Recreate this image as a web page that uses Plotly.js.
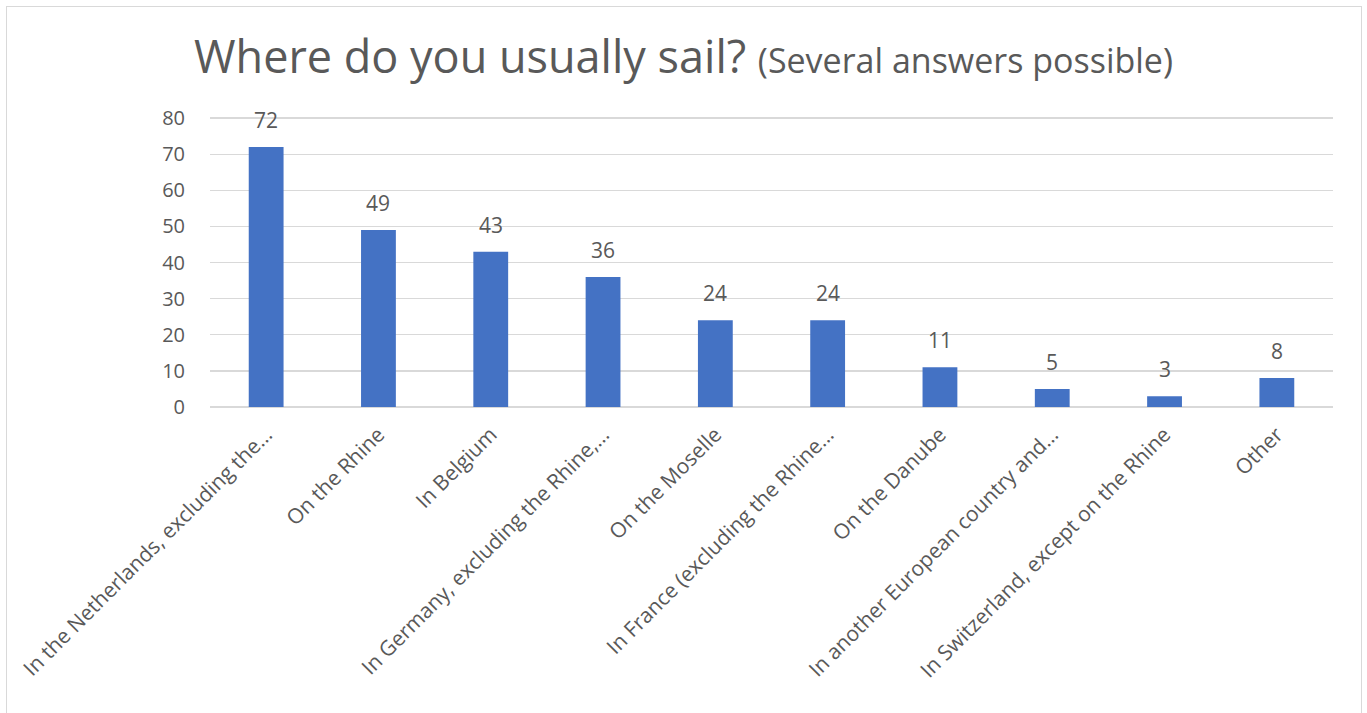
<!DOCTYPE html>
<html>
<head>
<meta charset="utf-8">
<script src="https://cdn.plot.ly/plotly-3.0.1.min.js"></script>
<style>
html,body{margin:0;padding:0;background:#fff;}
#chart{width:1367px;height:713px;}
#frame{position:absolute;left:6px;top:6px;width:1356px;height:720px;border:1px solid #d9d9d9;pointer-events:none;box-sizing:border-box;}
</style>
</head>
<body>
<div id="chart"></div>
<div id="frame"></div>
<script>
const categories = [
  "In the Netherlands, excluding the…",
  "On the Rhine",
  "In Belgium",
  "In Germany, excluding the Rhine,…",
  "On the Moselle",
  "In France (excluding the Rhine…",
  "On the Danube",
  "In another European country and…",
  "In Switzerland, except on the Rhine",
  "Other"
];
const values = [72, 49, 43, 36, 24, 24, 11, 5, 3, 8];
const yTicks = [0, 10, 20, 30, 40, 50, 60, 70, 80];

const FONT = "'Open Sans', 'Liberation Sans', sans-serif";
const GREY = "#595959";

const trace = {
  type: "bar",
  x: categories,
  y: values,
  marker: {color: "#4472C4"},
  hoverinfo: "x+y"
};

const annotations = categories.map((c, i) => ({
  x: c, y: values[i], xref: "x", yref: "y",
  text: String(values[i]),
  showarrow: false,
  yanchor: "bottom",
  yshift: 11,
  font: {family: FONT, size: 21, color: GREY}
}));

const layout = {
  width: 1367, height: 713,
  margin: {l: 210, r: 34, t: 117, b: 306},
  paper_bgcolor: "#fff",
  plot_bgcolor: "#fff",
  bargap: 0.69,
  showlegend: false,
  font: {family: FONT, color: GREY},
  title: {
    text: 'Where do you usually sail? <span style="font-size:34px">(Several answers possible)</span>',
    font: {family: FONT, size: 45, color: GREY},
    x: 0.5, xref: "container", xanchor: "center",
    y: 0.92, yref: "container", yanchor: "middle"
  },
  xaxis: {
    type: "category",
    tickangle: -45,
    tickfont: {family: FONT, size: 21, color: GREY},
    showline: false,
    ticks: "outside",
    ticklen: 6,
    tickcolor: "rgba(0,0,0,0)",
    showgrid: false
  },
  yaxis: {
    range: [0, 80.3],
    tickvals: yTicks,
    ticktext: yTicks.map(String),
    tickfont: {family: FONT, size: 20, color: GREY},
    gridcolor: "#d9d9d9",
    gridwidth: 1.3,
    zeroline: true,
    zerolinecolor: "#d9d9d9",
    zerolinewidth: 1.5,
    showline: false,
    ticks: "outside",
    ticklen: 20,
    tickcolor: "rgba(0,0,0,0)"
  },
  annotations: annotations
};

Plotly.newPlot("chart", [trace], layout, {displayModeBar: false, staticPlot: true});
</script>
</body>
</html>
